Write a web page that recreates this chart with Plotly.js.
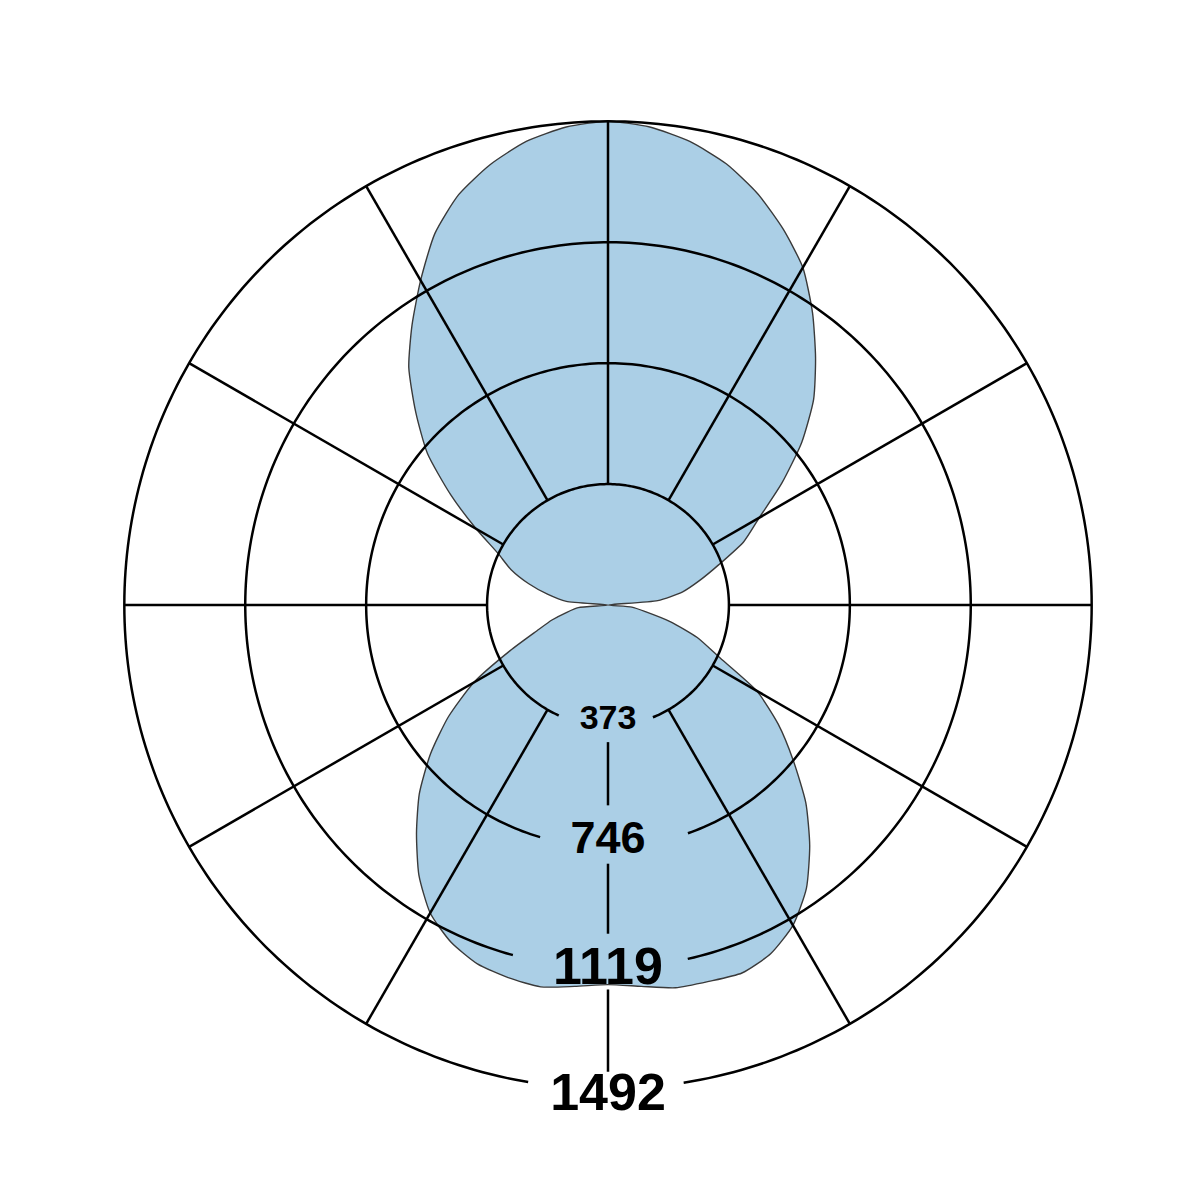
<!DOCTYPE html>
<html>
<head>
<meta charset="utf-8">
<script src="https://cdn.plot.ly/plotly-3.0.1.min.js"></script>
<style>
  html, body { margin: 0; padding: 0; background: #fff; }
  #chart { width: 1201px; height: 1201px; }
</style>
</head>
<body>
<div id="chart"></div>
<script>
// angle in degrees, counterclockwise from east
const angles = [0, 5, 10, 15, 20, 25, 30, 35, 40, 45, 50, 55, 60, 65, 70, 75, 80, 85,
  90, 95, 100, 105, 110, 115, 120, 125, 130, 135, 140, 145, 150, 155, 160, 165, 170, 175,
  180, 185, 190, 195, 200, 205, 210, 215, 220, 225, 230, 235, 240, 245, 250, 255, 260, 265,
  270, 275, 280, 285, 290, 295, 300, 305, 310, 315, 320, 325, 330, 335, 340, 345, 350, 355];
const values = [0, 154, 234, 293, 364, 462, 539, 654, 780, 897, 996, 1100, 1202, 1279, 1350, 1409, 1452, 1480,
  1492, 1480, 1452, 1406, 1347, 1264, 1156, 1054, 956, 838, 727, 592, 469, 373, 318, 253, 188, 129,
  0, 92, 129, 179, 234, 333, 478, 601, 715, 823, 919, 1017, 1097, 1147, 1178, 1190, 1196, 1181,
  1171, 1181, 1199, 1202, 1208, 1187, 1141, 1067, 968, 863, 746, 641, 530, 376, 293, 200, 117, 74];

const tickVals = [373, 746, 1119, 1492];
const tickLabels = ['373', '746', '1119', '1492'];
const spokeAngles = [0, 30, 60, 90, 120, 150, 180, 210, 240, 300, 330];

// label layout (style): where labels sit and how far the grid stays away from them
const labelR = [357, 730, 1130, 1518];
const labelSize = [34, 45, 52, 52];
const ringGapLeft = [24, 16.3, 15.2, 9.5];
const ringGapRight = [21.8, 19.3, 12.7, 9.0];
const southSpoke = [[423, 618], [798, 1014], [1186, 1440]];
const rMax = 1530; // a bit beyond the outer ring so it is not clipped

/**
 * Builds a grid circle that leaves an opening round the bottom label.
 */
function ring(r, gapL, gapR) {
  const th = [];
  const start = 270 + gapR;
  const end = 270 - gapL + 360;
  for (let a = start; a < end; a += 1) th.push(a);
  th.push(end);
  return {r: th.map(() => r), theta: th};
}

const gridLine = {color: '#000', width: 2.5};
const traces = [{
  type: 'scatterpolar',
  r: values.concat([values[0]]),
  theta: angles.concat([angles[0]]),
  mode: 'lines',
  fill: 'toself',
  fillcolor: '#abcfe6',
  line: {color: '#3a3a3a', width: 1.4, shape: 'spline', smoothing: 0.6},
  hoverinfo: 'skip'
}];

tickVals.forEach((t, i) => {
  const c = ring(t, ringGapLeft[i], ringGapRight[i]);
  traces.push({type: 'scatterpolar', r: c.r, theta: c.theta, mode: 'lines',
    line: gridLine, hoverinfo: 'skip'});
});

const sr = [], st = [];
spokeAngles.forEach(a => { sr.push(tickVals[0], tickVals[3], null); st.push(a, a, null); });
southSpoke.forEach(s => { sr.push(s[0], s[1], null); st.push(270, 270, null); });
traces.push({type: 'scatterpolar', r: sr, theta: st, mode: 'lines',
  line: gridLine, connectgaps: false, hoverinfo: 'skip'});

traces.push({
  type: 'scatterpolar',
  r: labelR,
  theta: labelR.map(() => 270),
  mode: 'text',
  text: tickLabels,
  textposition: 'middle center',
  textfont: {family: 'Liberation Sans, Arial, sans-serif', size: labelSize, color: '#000', weight: 'bold'},
  cliponaxis: false,
  hoverinfo: 'skip'
});

const layout = {
  width: 1201,
  height: 1201,
  margin: {l: 112, r: 97, t: 109, b: 100},
  paper_bgcolor: '#fff',
  showlegend: false,
  polar: {
    bgcolor: 'rgba(0,0,0,0)',
    domain: {x: [0, 1], y: [0, 1]},
    radialaxis: {visible: false, range: [0, rMax], autorange: false},
    angularaxis: {visible: false, direction: 'counterclockwise', rotation: 0}
  }
};

Plotly.newPlot('chart', traces, layout, {staticPlot: true});
</script>
</body>
</html>
